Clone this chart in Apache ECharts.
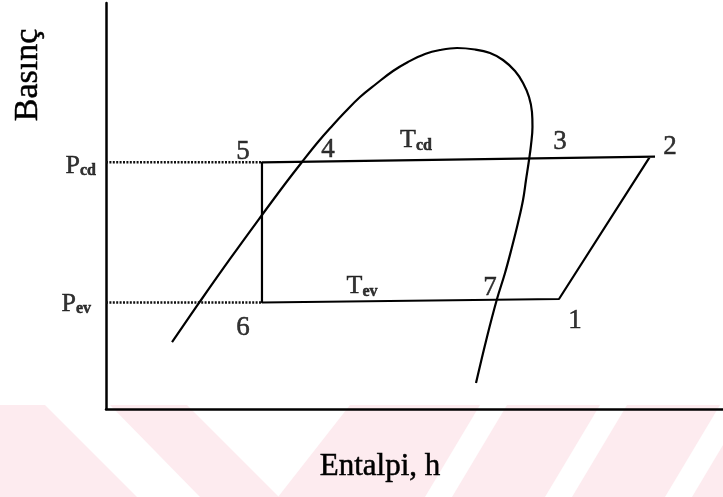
<!DOCTYPE html>
<html>
<head>
<meta charset="utf-8">
<script src="https://cdn.jsdelivr.net/npm/echarts@6/dist/echarts.min.js"></script>
<style>
  html, body { margin: 0; padding: 0; background: #ffffff; }
  #chart { width: 723px; height: 497px; }
</style>
</head>
<body>
<div id="chart"></div>
<script>
// Numbered state points of the vapour-compression cycle (enthalpy h, pressure P; schematic units)
const STATE_NAMES = ['1', '2', '3', '4', '5', '6', '7'];
const STATE_H = [73.42, 88.17, 68.56, 31.77, 25.28, 25.28, 63.37];
const STATE_P = [27.09, 62.14, 61.72, 60.91, 60.76, 26.23, 26.92];

// The condenser line is drawn slightly past state 2
const TOP_END_H = 88.98;
const TOP_END_P = 62.17;

// Saturation dome (liquid branch, critical region, vapour branch)
const DOME_H = [10.70, 15.07, 20.10, 25.28, 29.01, 31.77, 34.36, 36.79, 38.74, 41.17, 43.76, 46.52,
                48.95, 51.70, 54.13, 56.89, 59.81, 62.24, 64.34, 66.29, 67.59, 68.56, 69.04, 69.12,
                68.88, 68.56, 68.07, 67.59, 66.77, 65.80, 64.67, 63.37, 61.75, 59.97];
const DOME_P = [16.50, 26.11, 36.95, 47.78, 55.42, 60.84, 65.76, 69.95, 73.15, 76.85, 80.05, 83.25,
                85.47, 87.44, 88.42, 88.92, 88.55, 87.68, 85.96, 83.25, 80.30, 76.85, 73.15, 69.46,
                65.02, 61.33, 56.40, 51.48, 45.81, 39.90, 33.50, 27.09, 17.73, 6.40];

// Pressure levels: condenser (state 5) and evaporator (state 6)
const PRESSURE_SUBS = ['cd', 'ev'];
const PRESSURE_STATE = [4, 5];

// Isotherm labels along the two pressure lines
const TEMP_SUBS = ['cd', 'ev'];
const TEMP_H = [50.24, 41.49];
const TEMP_P = [66.26, 30.30];

const AXIS_X_TITLE = 'Entalpi, h';
const AXIS_Y_TITLE = 'Basınç';

// ---- styling ----
const SERIF = '"Liberation Serif", "DejaVu Serif", serif';
const INK = '#000000';
const TEXT_EDGE = { textBorderColor: '#000000', textBorderWidth: 0.5 };
const STATE_LABEL_OFFSETS = [[16, 22], [20, -10], [31, -17], [26, -12], [-19, -10], [-19, 25], [-7, -12]];
const PRESSURE_LABEL_OFFSETS = [[-10, 3], [-15, 1]];

const pt = i => [STATE_H[i], STATE_P[i]];

// Cycle outline: condenser line -> throttling 5-6 -> evaporator 6-1 -> compression 1-2
const cyclePath = [[TOP_END_H, TOP_END_P], pt(4), pt(5), pt(0), pt(1)];
const domeData = DOME_H.map((h, i) => [h, DOME_P[i]]);

const subRich = {
  p: Object.assign({ fontFamily: SERIF, fontSize: 26, color: INK, verticalAlign: 'bottom', lineHeight: 27 }, TEXT_EDGE),
  s: Object.assign({ fontFamily: SERIF, fontSize: 16, fontWeight: 'bold', color: INK, verticalAlign: 'bottom', lineHeight: 23 }, TEXT_EDGE)
};

const series = [
  {
    type: 'line', name: 'dome', data: domeData, smooth: 0.4, showSymbol: false,
    lineStyle: { color: INK, width: 2.2 }, z: 3, silent: true
  },
  {
    type: 'line', name: 'cycle', data: cyclePath, showSymbol: false,
    lineStyle: { color: INK, width: 2.2 }, z: 3, silent: true
  }
];

PRESSURE_STATE.forEach((si, k) => {
  series.push({
    type: 'line', name: 'P' + PRESSURE_SUBS[k] + ' guide',
    data: [[0, STATE_P[si]], [STATE_H[si], STATE_P[si]]],
    showSymbol: false, silent: true, z: 2,
    lineStyle: { color: '#111111', width: 2.4, type: [2, 1.4] }
  });
});

series.push({
  type: 'scatter', name: 'states', symbolSize: 0, silent: true, z: 5,
  data: STATE_NAMES.map((n, i) => ({
    name: n, value: pt(i),
    label: { offset: STATE_LABEL_OFFSETS[i] }
  })),
  label: Object.assign({
    show: true, position: 'inside', formatter: p => p.name,
    fontFamily: SERIF, fontSize: 27, color: INK
  }, TEXT_EDGE)
});

series.push({
  type: 'scatter', name: 'pressure labels', symbolSize: 0, silent: true, z: 5,
  data: PRESSURE_STATE.map((si, k) => ({
    name: PRESSURE_SUBS[k], value: [0, STATE_P[si]],
    label: { offset: PRESSURE_LABEL_OFFSETS[k] }
  })),
  label: {
    show: true, position: 'left', distance: 0, align: 'right',
    formatter: p => '{p|P}{s|' + p.name + '}', rich: subRich
  }
});

series.push({
  type: 'scatter', name: 'temperature labels', symbolSize: 0, silent: true, z: 5,
  data: TEMP_SUBS.map((s, k) => ({ name: s, value: [TEMP_H[k], TEMP_P[k]] })),
  label: {
    show: true, position: 'inside',
    formatter: p => '{p|T}{s|' + p.name + '}', rich: subRich
  }
});

// faint diagonal watermark bands along the bottom edge
const WATERMARK = [
  [[0, 405], [45, 405], [137, 497], [0, 497]],
  [[110, 405], [187, 405], [279, 497], [200, 497]],
  [[350, 405], [480, 405], [425, 497], [278, 497]],
  [[507, 405], [600, 405], [545, 497], [452, 497]],
  [[627, 405], [720, 405], [665, 497], [572, 497]],
  [[692, 497], [723, 497], [723, 445]]
];

const graphic = WATERMARK.map(points => ({
  type: 'polygon', silent: true, z: -10,
  shape: { points },
  style: { fill: '#fdebef' }
}));
graphic.push(
  {
    type: 'text', x: 28, y: 75, rotation: Math.PI / 2, silent: true, z: 10,
    style: { text: AXIS_Y_TITLE, fontFamily: SERIF, fontSize: 34, fill: INK, align: 'center', verticalAlign: 'middle', stroke: '#000', lineWidth: 0.5 }
  },
  {
    type: 'text', x: 380, y: 467, silent: true, z: 10,
    style: { text: AXIS_X_TITLE, fontFamily: SERIF, fontSize: 31, fill: INK, align: 'center', verticalAlign: 'middle', stroke: '#000', lineWidth: 0.5 }
  }
);

const chart = echarts.init(document.getElementById('chart'), null, { renderer: 'canvas' });
chart.setOption({
  backgroundColor: '#ffffff',
  animation: false,
  grid: { left: 106, right: 0, top: 3, bottom: 88, containLabel: false },
  xAxis: {
    type: 'value', min: 0, max: 100,
    axisLine: { show: true, onZero: false, lineStyle: { color: INK, width: 2.5 } },
    axisTick: { show: false }, axisLabel: { show: false }, splitLine: { show: false }
  },
  yAxis: {
    type: 'value', min: 0, max: 100,
    axisLine: { show: true, onZero: false, lineStyle: { color: INK, width: 2.5 } },
    axisTick: { show: false }, axisLabel: { show: false }, splitLine: { show: false }
  },
  graphic,
  series
});
</script>
</body>
</html>
